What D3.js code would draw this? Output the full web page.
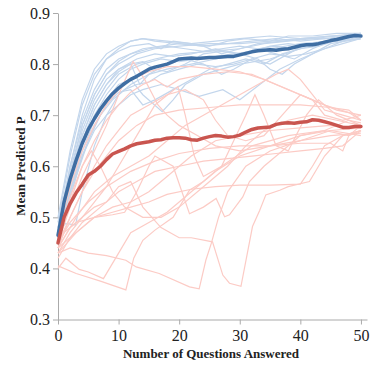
<!DOCTYPE html>
<html>
<head>
<meta charset="utf-8">
<script src="https://cdn.jsdelivr.net/npm/d3@7"></script>
<style>
  body { margin: 0; background: #fff; }
  svg text { font-family: "Liberation Serif", "Times New Roman", serif; fill: #222; }
  .axis path, .axis line { stroke: #aaa; }
</style>
</head>
<body>
<div id="chart"></div>
<script>
// Tick labels
var xTicks = [0, 10, 20, 30, 40, 50];
var yTicks = [0.3, 0.4, 0.5, 0.6, 0.7, 0.8, 0.9];

// Mean curves, one value per question answered (0..50)
var blueMean = [0.465, 0.53, 0.575, 0.612, 0.645, 0.672, 0.693, 0.712, 0.728, 0.742,
  0.753, 0.762, 0.77, 0.776, 0.783, 0.79, 0.794, 0.797, 0.8, 0.805,
  0.81, 0.811, 0.812, 0.811, 0.812, 0.813, 0.813, 0.814, 0.815, 0.815,
  0.818, 0.821, 0.824, 0.826, 0.827, 0.828, 0.827, 0.829, 0.83, 0.833,
  0.836, 0.838, 0.838, 0.84, 0.843, 0.846, 0.848, 0.851, 0.854, 0.856, 0.855];

var redMean = [0.45, 0.5, 0.527, 0.548, 0.565, 0.583, 0.59, 0.6, 0.613, 0.624,
  0.629, 0.634, 0.64, 0.644, 0.646, 0.648, 0.651, 0.652, 0.655, 0.656,
  0.656, 0.655, 0.652, 0.651, 0.655, 0.658, 0.66, 0.659, 0.657, 0.658,
  0.661, 0.667, 0.672, 0.675, 0.676, 0.677, 0.682, 0.684, 0.685, 0.684,
  0.686, 0.687, 0.691, 0.69, 0.687, 0.684, 0.68, 0.676, 0.676, 0.678, 0.678];

// Individual runs, [questions, predicted P]
var blueRuns = [
  [[0,0.47],[2,0.6],[4,0.7],[6,0.77],[8,0.81],[10,0.83],[12,0.845],[14,0.85],[18,0.845],[22,0.84],[26,0.845],[30,0.85],[35,0.855],[40,0.85],[45,0.855],[50,0.855]],
  [[0,0.48],[2,0.59],[4,0.68],[6,0.74],[8,0.78],[10,0.8],[13,0.82],[16,0.83],[20,0.835],[25,0.84],[30,0.84],[35,0.845],[40,0.85],[45,0.855],[50,0.86]],
  [[0,0.46],[2,0.56],[4,0.65],[6,0.71],[8,0.75],[10,0.78],[13,0.8],[16,0.81],[20,0.82],[25,0.825],[30,0.83],[33,0.84],[37,0.845],[41,0.85],[45,0.85],[50,0.855]],
  [[0,0.47],[1.3,0.488],[2.9,0.485],[4,0.55],[6,0.64],[8,0.7],[10,0.74],[12,0.76],[15,0.78],[18,0.79],[22,0.8],[26,0.81],[30,0.82],[35,0.83],[40,0.84],[45,0.845],[50,0.855]],
  [[0,0.47],[2,0.55],[4,0.62],[6,0.67],[8,0.7],[10,0.72],[12,0.74],[14,0.75],[17,0.76],[20,0.75],[23.3,0.737],[27.2,0.75],[30,0.73],[33.3,0.76],[36.6,0.79],[40,0.81],[44,0.83],[47,0.845],[50,0.855]],
  [[0,0.46],[2,0.55],[4,0.63],[6,0.69],[8,0.73],[10,0.76],[12,0.77],[14,0.74],[17.2,0.707],[19,0.73],[21,0.76],[24,0.78],[27,0.79],[30,0.8],[35,0.81],[40,0.83],[45,0.845],[50,0.85]],
  [[0,0.49],[2,0.62],[4,0.72],[6,0.78],[8,0.81],[10,0.825],[12,0.835],[15,0.84],[17,0.83],[19,0.845],[22,0.84],[25,0.835],[28,0.845],[31,0.85],[35,0.845],[38,0.855],[42,0.855],[46,0.86],[50,0.86]],
  [[0,0.47],[2,0.57],[4,0.66],[6,0.72],[8,0.76],[10,0.79],[12,0.8],[13.5,0.76],[15,0.78],[18,0.8],[21,0.81],[24,0.8],[27,0.78],[29,0.79],[32,0.81],[35,0.8],[38,0.82],[41,0.84],[45,0.845],[50,0.855]],
  [[0,0.45],[2,0.54],[4,0.62],[6,0.68],[8,0.72],[10,0.745],[12,0.75],[14,0.72],[16,0.73],[19,0.75],[22,0.77],[25,0.79],[28,0.8],[31,0.81],[34,0.8],[37,0.82],[40,0.83],[43,0.835],[47,0.85],[50,0.855]],
  [[0,0.48],[2,0.6],[4,0.69],[6,0.75],[8,0.79],[10,0.81],[12,0.82],[15,0.83],[18,0.835],[21,0.83],[24,0.825],[27,0.83],[30,0.835],[33,0.83],[36,0.82],[39,0.81],[42,0.83],[45,0.845],[50,0.855]],
  [[0,0.46],[2,0.57],[4,0.67],[6,0.73],[8,0.77],[10,0.79],[13,0.81],[16,0.82],[19,0.815],[22,0.82],[26,0.83],[30,0.82],[33,0.81],[35,0.79],[37,0.78],[39,0.8],[42,0.82],[45,0.84],[50,0.85]],
  [[0,0.47],[2,0.58],[4,0.68],[6,0.74],[8,0.78],[10,0.805],[12,0.82],[14,0.83],[17,0.835],[20,0.84],[24,0.835],[28,0.84],[32,0.845],[36,0.85],[40,0.845],[44,0.85],[48,0.855],[50,0.855]],
  [[0,0.5],[2,0.63],[4,0.73],[6,0.79],[8,0.82],[10,0.835],[12,0.845],[14,0.85],[16,0.845],[20,0.84],[24,0.835],[27,0.82],[30,0.83],[34,0.84],[38,0.845],[42,0.85],[46,0.855],[50,0.86]],
  [[0,0.46],[2,0.55],[4,0.64],[6,0.7],[8,0.74],[10,0.77],[12,0.79],[14,0.8],[17,0.81],[20,0.805],[23,0.81],[26,0.815],[29,0.82],[32,0.825],[35,0.835],[38,0.84],[41,0.835],[44,0.845],[47,0.85],[50,0.855]],
  [[0,0.47],[2,0.58],[4,0.66],[6,0.72],[8,0.76],[10,0.785],[12,0.8],[14,0.805],[16,0.79],[18,0.785],[21,0.8],[24,0.82],[27,0.825],[30,0.82],[33,0.83],[36,0.835],[39,0.83],[42,0.84],[46,0.845],[50,0.85]],
  [[0,0.46],[1.5,0.52],[3,0.58],[5,0.65],[7,0.7],[9,0.73],[11,0.75],[13,0.76],[15,0.765],[17,0.78],[20,0.79],[23,0.8],[26,0.795],[29,0.8],[32,0.81],[35,0.82],[38,0.815],[41,0.82],[44,0.83],[47,0.84],[50,0.85]]
];

var redRuns = [
  [[0,0.4],[1.3,0.42],[3.5,0.398],[5,0.393],[7.5,0.38],[10,0.43],[12,0.47],[15,0.49],[18,0.51],[22,0.55],[26,0.59],[30,0.62],[35,0.64],[40,0.65],[45,0.67],[50,0.675]],
  [[0,0.405],[3,0.39],[7,0.375],[11.2,0.358],[12.5,0.42],[14,0.455],[16,0.475],[19,0.5],[21.7,0.553],[24,0.57],[27,0.6],[32,0.64],[38,0.66],[44,0.67],[48,0.66],[50,0.68]],
  [[0,0.43],[2,0.44],[5,0.43],[8,0.425],[11.2,0.416],[12.9,0.403],[16.7,0.39],[21.7,0.364],[23.3,0.36],[24.4,0.416],[25.3,0.449],[26.5,0.5],[28,0.55],[31,0.6],[35,0.63],[40,0.65],[45,0.66],[50,0.665]],
  [[0,0.44],[2,0.48],[4,0.5],[6,0.52],[8,0.53],[10,0.56],[12,0.57],[14,0.52],[17,0.48],[20,0.46],[22,0.46],[25.5,0.452],[27.2,0.387],[28.3,0.371],[30.2,0.365],[32.1,0.482],[33.3,0.514],[34.3,0.544],[36.6,0.553],[38,0.56],[41.5,0.57],[44,0.62],[47,0.66],[50,0.67]],
  [[0,0.45],[1,0.47],[3,0.49],[6,0.5],[9,0.505],[11,0.51],[13,0.55],[15,0.6],[16,0.62],[19,0.6],[21.7,0.507],[24,0.52],[26.1,0.537],[27.5,0.501],[28.3,0.505],[30.5,0.54],[31.6,0.57],[34,0.6],[37,0.63],[40,0.66],[44,0.67],[48,0.69],[50,0.685]],
  [[0,0.47],[2,0.56],[4,0.63],[6,0.68],[8,0.72],[10,0.75],[12,0.77],[15,0.785],[18,0.795],[22,0.795],[26,0.79],[30,0.785],[34,0.77],[38,0.75],[42,0.73],[46,0.71],[50,0.7]],
  [[0,0.46],[2,0.53],[4,0.6],[6,0.65],[8,0.69],[10,0.72],[12,0.745],[14,0.76],[16,0.77],[18,0.755],[20,0.77],[24,0.78],[28,0.785],[32,0.78],[36,0.76],[40,0.74],[44,0.72],[48,0.705],[50,0.69]],
  [[0,0.45],[2,0.52],[4,0.58],[6,0.63],[8,0.68],[10,0.74],[12.4,0.805],[14.3,0.77],[16.5,0.72],[18,0.7],[20,0.68],[23,0.66],[26,0.64],[30,0.63],[35,0.64],[40,0.66],[45,0.67],[50,0.66]],
  [[0,0.44],[2,0.5],[4,0.55],[6,0.59],[8,0.62],[10,0.65],[13,0.68],[16,0.7],[20,0.71],[25,0.715],[30,0.72],[35,0.72],[40,0.72],[45,0.715],[48,0.71],[50,0.69]],
  [[0,0.43],[2,0.47],[4,0.5],[6,0.53],[8,0.56],[10,0.6],[13,0.66],[16,0.72],[19.8,0.756],[21,0.7],[22.5,0.62],[24,0.58],[27,0.6],[29,0.65],[31,0.7],[32.5,0.74],[34,0.7],[36,0.64],[38,0.63],[41,0.7],[43,0.73],[46,0.7],[50,0.68]],
  [[0,0.42],[2,0.46],[4,0.49],[7,0.52],[10,0.55],[13,0.57],[16,0.59],[20,0.6],[24,0.61],[28,0.615],[32,0.62],[36,0.625],[40,0.63],[44,0.635],[47,0.64],[49,0.66],[50,0.67]],
  [[0,0.45],[2,0.49],[5,0.53],[8,0.56],[12,0.59],[16,0.61],[20,0.625],[25,0.635],[30,0.64],[35,0.64],[40,0.645],[45,0.645],[47,0.63],[48,0.66],[50,0.67]],
  [[0,0.46],[2,0.54],[4,0.6],[5.5,0.63],[7,0.6],[9,0.55],[11,0.52],[14,0.5],[17,0.5],[20,0.52],[24,0.56],[28,0.6],[31,0.64],[34,0.67],[38,0.69],[42,0.7],[46,0.69],[50,0.68]],
  [[0,0.44],[3,0.5],[6,0.55],[9,0.58],[12,0.6],[15,0.62],[18,0.65],[21,0.68],[24,0.7],[27,0.72],[30,0.74],[33,0.76],[36,0.78],[38,0.79],[40,0.77],[42,0.74],[44,0.71],[47,0.7],[50,0.69]],
  [[0,0.45],[2,0.5],[4,0.55],[6,0.6],[8,0.64],[10,0.67],[12,0.7],[15,0.72],[18,0.74],[21,0.75],[24,0.73],[26,0.69],[28,0.66],[31,0.65],[34,0.66],[37,0.7],[40,0.74],[42,0.73],[44,0.7],[47,0.69],[50,0.7]],
  [[0,0.43],[1.5,0.45],[3,0.47],[6,0.5],[9,0.52],[12,0.53],[15,0.55],[18,0.58],[22,0.62],[26,0.65],[30,0.66],[35,0.67],[40,0.675],[45,0.68],[50,0.675]],
  [[0,0.44],[3,0.47],[6,0.5],[9,0.51],[12,0.52],[15,0.53],[18,0.545],[22,0.555],[26,0.56],[30,0.563],[35,0.563],[40,0.565],[42,0.6],[44,0.64],[47,0.66],[50,0.67]]
];

// Set SVG dimensions
var svgWidth = 381;
var svgHeight = 373;

var svg = d3.select("#chart")
  .append("svg")
  .attr("width", svgWidth)
  .attr("height", svgHeight);

// Scales
var x = d3.scaleLinear().domain([0, 51]).range([58, 367]);
var y = d3.scaleLinear().domain([0.3, 0.9]).range([319.5, 13]);

// Axes
svg.append("g")
  .attr("class", "axis")
  .attr("transform", "translate(0,319.5)")
  .call(d3.axisBottom(x).tickValues(xTicks).tickSizeInner(5).tickSizeOuter(0).tickPadding(5))
  .call(g => g.selectAll("text").attr("font-size", 16).attr("fill", "#222"));

svg.append("g")
  .attr("class", "axis")
  .attr("transform", "translate(58,0)")
  .call(d3.axisLeft(y).tickValues(yTicks).tickFormat(d3.format(".1f")).tickSizeInner(5).tickSizeOuter(0).tickPadding(3))
  .call(g => g.selectAll("text").attr("font-size", 16).attr("fill", "#222"));

// Line generators
var runLine = d3.line().x(d => x(d[0])).y(d => y(d[1]));
var meanLine = d3.line().x((d, i) => x(i)).y(d => y(d));

// Thin runs
svg.append("g").selectAll("path")
  .data(blueRuns)
  .enter()
  .append("path")
  .attr("d", runLine)
  .attr("fill", "none")
  .attr("stroke", "#c3d6ec")
  .attr("stroke-width", 1.2);

svg.append("g").selectAll("path")
  .data(redRuns)
  .enter()
  .append("path")
  .attr("d", runLine)
  .attr("fill", "none")
  .attr("stroke", "#fccbc5")
  .attr("stroke-width", 1.2);

// Means
svg.append("path")
  .attr("d", meanLine(blueMean))
  .attr("fill", "none")
  .attr("stroke", "#3f6ea3")
  .attr("stroke-width", 3.5)
  .attr("stroke-linecap", "round")
  .attr("stroke-linejoin", "round");

svg.append("path")
  .attr("d", meanLine(redMean))
  .attr("fill", "none")
  .attr("stroke", "#c9554f")
  .attr("stroke-width", 3.5)
  .attr("stroke-linecap", "round")
  .attr("stroke-linejoin", "round");

// Axis titles
svg.append("text")
  .attr("x", 211)
  .attr("y", 358)
  .attr("text-anchor", "middle")
  .attr("font-size", 13)
  .attr("font-weight", "bold")
  .text("Number of Questions Answered");

svg.append("text")
  .attr("transform", "translate(25,166) rotate(-90)")
  .attr("text-anchor", "middle")
  .attr("font-size", 13)
  .attr("font-weight", "bold")
  .text("Mean Predicted P");
</script>
</body>
</html>
